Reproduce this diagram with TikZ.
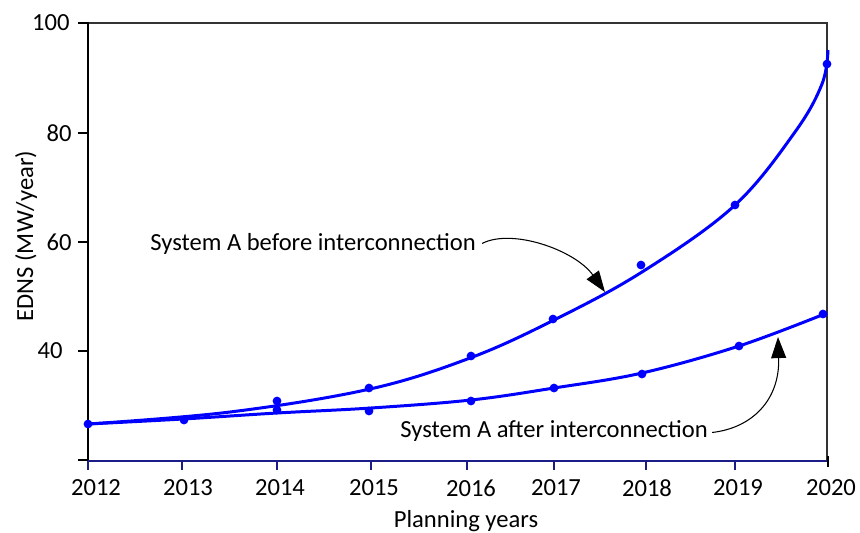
\documentclass[tikz,border=0pt]{standalone}
\usepackage{fontspec}
\setmainfont{Carlito}
\usetikzlibrary{positioning, arrows.meta, calc}
\definecolor{axisnavy}{RGB}{28,28,135}

\begin{document}
\begin{tikzpicture}[
        x=0.02cm, y=-0.02cm,
        lbl/.style={font=\fontsize{14}{16}\selectfont, inner sep=0pt},
        fitline/.style={draw=blue, line width=1.7pt},
        dot/.style={circle, fill=blue, minimum size=5pt, inner sep=0pt},
        note/.style={-{Triangle[length=12pt, width=8.5pt]}, line width=0.6pt},
    ]
        \useasboundingbox (0,0) rectangle (860,532);

        % Draw the frame round the plot area
        \draw[draw=black!80, line width=0.75pt] (88,23) -- (827,23) -- (827,461);

        % Draw the axes
        \draw[line width=1.7pt] (88,461) -- (88,22);
        \draw[draw=axisnavy, line width=1.3pt] (88,461) -- (828,461);

        % Ticks and labels of the y axis
        \foreach \y in {23,133,242,351,460}
            \draw[line width=1.2pt] (78,\y) -- (88,\y);
        \foreach \val / \y / \xl in {100/23/70, 80/133/72, 60/242/72, 40/351/63}
            \node[lbl, anchor=east] (ytick-\val) at (\xl,\y) {\val};

        % Ticks and labels of the x axis
        \foreach \year / \x / \xl in {2012/88/96, 2013/182/188, 2014/277/280, 2015/371/374,
                                      2016/467/471, 2017/554/556, 2018/646/647, 2019/735/738}
        {
            \draw[draw=axisnavy, line width=1.3pt] (\x,461) -- (\x,470);
            \node[lbl] (xtick-\year) at (\xl,488) {\year};
        }
        \draw[line width=1pt] (828,456) -- (828,467);
        \node[lbl] (xtick-2020) at (831,488) {2020};

        % Axis titles
        \node[lbl, rotate=90] (ytitle) at (26,236) {EDNS (MW/year)};
        \node[lbl, anchor=base] (xtitle) at (466,527) {Planning years};

        % Fitted curves
        \draw[fitline] plot[smooth, tension=0.6] coordinates {(88,424) (230,412) (370,389)
            (470,358) (554,320) (642,272) (734,206) (795,132) (822,84) (828,50)};
        \draw[fitline] plot[smooth, tension=0.6] coordinates {(88,424) (183,419) (277,413) (371,408)
            (471,400) (554,388) (642,373) (739,346) (827,313)};

        % Data points before interconnection
        \foreach \x / \y [count=\i] in {88/424, 184/420, 277/401, 369/388, 471/356,
                                        553/319, 641/265, 735/205, 827/64}
            \node[dot] (before-\i) at (\x,\y) {};

        % Data points after interconnection
        \foreach \x / \y [count=\i] in {277/410, 369/411, 471/401, 554/388, 642/374,
                                        739/346, 823/314}
            \node[dot] (after-\i) at (\x,\y) {};

        % Annotations
        \node[lbl, anchor=base west] (lblBefore) at (150,250) {System A before interconnection};
        \node[lbl, anchor=base west] (lblAfter) at (400,437) {System A after interconnection};
        \coordinate (tipBefore) at (605,292);
        \coordinate (tipAfter) at (778,337);
        \draw[note] ($(lblBefore.east)+(6,0)$) .. controls (512,228) and (575,250) .. (tipBefore);
        \draw[note] ($(lblAfter.east)+(4,2)$) .. controls (752,428) and (780,400) .. (tipAfter);
    \end{tikzpicture}
\end{document}
